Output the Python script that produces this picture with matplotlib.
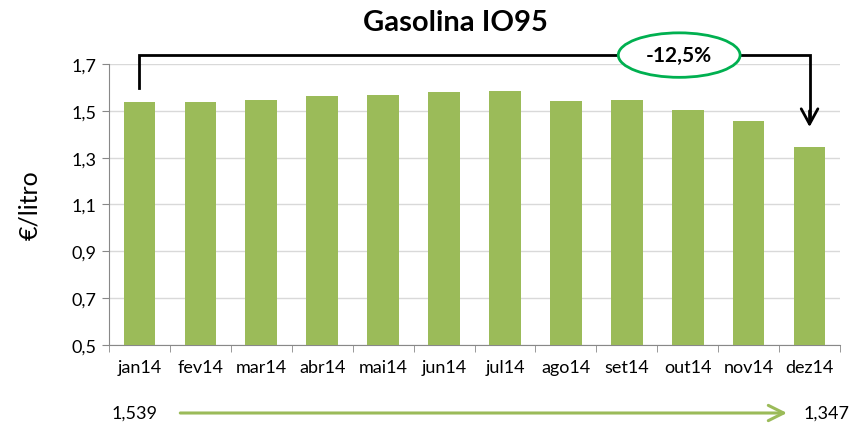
import matplotlib
matplotlib.use("Agg")
import matplotlib.pyplot as plt
from matplotlib.patches import Ellipse

months = ["jan14", "fev14", "mar14", "abr14", "mai14", "jun14",
          "jul14", "ago14", "set14", "out14", "nov14", "dez14"]
prices = [1.539, 1.539, 1.546, 1.565, 1.568, 1.579,
          1.585, 1.543, 1.545, 1.504, 1.455, 1.347]
yticks = [0.5, 0.7, 0.9, 1.1, 1.3, 1.5, 1.7]
ytick_labels = ["0,5", "0,7", "0,9", "1,1", "1,3", "1,5", "1,7"]
change_label = "-12,5%"
start_label = "1,539"
end_label = "1,347"

plt.rcParams['font.family'] = ['Lato', 'DejaVu Sans']

fig = plt.figure(figsize=(8.49, 4.27), dpi=100)
ax = fig.add_axes([0.1284, 0.1897, 0.861, 0.6581])

x = list(range(len(months)))
ax.bar(x, prices, width=0.52, color="#9BBB59", zorder=3)
ax.set_xlim(-0.5, len(months) - 0.5)
ax.set_ylim(0.5, 1.7)
ax.set_yticks(yticks)
ax.set_yticklabels(ytick_labels, fontsize=13)
ax.set_xticks(x)
ax.set_xticklabels(months, fontsize=13)
ax.set_xticks([i - 0.5 for i in range(len(months) + 1)], minor=True)
ax.tick_params(axis='x', which='major', length=0, pad=10)
ax.tick_params(axis='x', which='minor', length=5, color="#888888")
ax.tick_params(axis='y', length=5, color="#888888", pad=4)
ax.grid(axis='y', color="#d9d9d9", linewidth=1, zorder=0)
for s in ["top", "right"]:
    ax.spines[s].set_visible(False)
ax.spines["left"].set_color("#888888")
ax.spines["bottom"].set_color("#888888")

ax.set_ylabel("€/litro", fontsize=18, labelpad=22)
fig.text(0.536, 0.945, "Gasolina IO95", ha="center", va="center",
         fontsize=21, fontweight="bold")

# bracket annotation
top_y = 1.738
ax.plot([0, 0, 11, 11], [1.597, top_y, top_y, 1.46], color="black", lw=2,
        clip_on=False, zorder=4, solid_joinstyle="miter")
ax.annotate("", xy=(11, 1.431), xytext=(11, 1.5),
            arrowprops=dict(arrowstyle="->,head_length=1.1,head_width=0.6",
                            color="black", lw=2, shrinkA=0, shrinkB=0),
            annotation_clip=False, zorder=4)
ell = Ellipse((8.86, top_y), width=2.0, height=0.19, facecolor="white",
              edgecolor="#00B050", lw=2, clip_on=False, zorder=5)
ax.add_patch(ell)
ax.text(8.86, top_y, change_label, ha="center", va="center", fontsize=15,
        fontweight="bold", zorder=6, clip_on=False)

# bottom arrow
arrow_y = 0.2096
ax.annotate("", xy=(10.63, arrow_y), xytext=(0.67, arrow_y),
            arrowprops=dict(arrowstyle="->,head_length=1.1,head_width=0.55",
                            color="#9BBB59", lw=2.2, shrinkA=0, shrinkB=0),
            annotation_clip=False)
ax.text(0.3, arrow_y, start_label, ha="right", va="center", fontsize=13,
        clip_on=False)
ax.text(10.9, arrow_y, end_label, ha="left", va="center", fontsize=13,
        clip_on=False)

fig.savefig("out.png", dpi=100)
